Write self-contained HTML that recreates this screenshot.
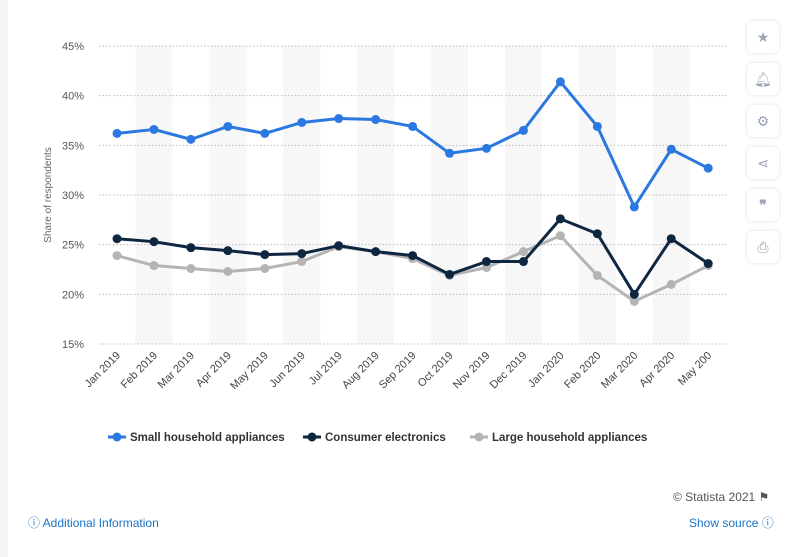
<!DOCTYPE html>
<html><head><meta charset="utf-8"><style>
body{margin:0;width:800px;height:557px;background:#fff;font-family:"Liberation Sans",sans-serif;position:relative;overflow:hidden}
.side{position:absolute;left:0;top:0;width:8px;height:557px;background:#f3f4f7}
.btn{position:absolute;left:747px;width:32px;height:32px;border-radius:6px;background:#fff;box-shadow:0 0 4px rgba(0,0,0,.12);color:#9aa3b5;font-size:14px;text-align:center;line-height:32px}
.foot{position:absolute;font-size:12px}
</style></head><body>
<div class="side"></div>
<svg id="chart" width="800" height="557" style="position:absolute;left:0;top:0"></svg>
<div class="btn" style="top:21px">★</div>
<div class="btn" style="top:63px">🔔︎</div>
<div class="btn" style="top:105px">⚙</div>
<div class="btn" style="top:147px">⋖</div>
<div class="btn" style="top:189px;font-weight:bold">❞</div>
<div class="btn" style="top:231px">⎙</div>
<div class="foot" style="left:673px;top:490px;color:#555">© Statista 2021 ⚑</div>
<div class="foot" style="left:28px;top:514px;color:#1a73c8">ⓘ Additional Information</div>
<div class="foot" style="left:689px;top:514px;color:#1a73c8">Show source ⓘ</div>
<script>
const categories=["Jan 2019","Feb 2019","Mar 2019","Apr 2019","May 2019","Jun 2019","Jul 2019","Aug 2019","Sep 2019","Oct 2019","Nov 2019","Dec 2019","Jan 2020","Feb 2020","Mar 2020","Apr 2020","May 200"];
const small=[36.2,36.6,35.6,36.9,36.2,37.3,37.7,37.6,36.9,34.2,34.7,36.5,41.4,36.9,28.8,34.6,32.7];
const consumer=[25.6,25.3,24.7,24.4,24.0,24.1,24.9,24.3,23.9,22.0,23.3,23.3,27.6,26.1,20.0,25.6,23.1];
const large=[23.9,22.9,22.6,22.3,22.6,23.3,24.8,24.3,23.6,21.9,22.7,24.3,25.9,21.9,19.3,21.0,22.9];
const ticks=[15,20,25,30,35,40,45];
const NS="http://www.w3.org/2000/svg",svg=document.getElementById('chart');
const step=36.95,x0=117;
const X=i=>x0+i*step, Y=v=>344-(v-15)*(298/30);
function mk(t,a){const e=document.createElementNS(NS,t);for(const k in a)e.setAttribute(k,a[k]);svg.appendChild(e);return e;}
for(let i=1;i<categories.length;i+=2){const r=mk('rect',{x:X(i)-step/2,y:Y(45),width:step,height:Y(15)-Y(45),fill:'#f7f7f7'});

}
ticks.forEach(t=>{const l=mk('line',{x1:99,x2:727,y1:Y(t),y2:Y(t),stroke:'#bbb','stroke-dasharray':'1.5,2'});


const tx=mk('text',{x:84,y:Y(t)+4,'text-anchor':'end','font-size':11,fill:'#555'});tx.textContent=t+'%';

});
const yt=mk('text',{transform:'translate(51,195) rotate(-90)','text-anchor':'middle','font-size':10,fill:'#666'});yt.textContent='Share of respondents';


categories.forEach((c,i)=>{const t=mk('text',{transform:`translate(${X(i)+4},${356}) rotate(-45)`,'text-anchor':'end','font-size':11,fill:'#444'});t.textContent=c;

});
function series(d,col,name){const p=mk('polyline',{points:d.map((v,i)=>X(i)+','+Y(v)).join(' '),fill:'none',stroke:col,'stroke-width':3,'stroke-linejoin':'round'});


d.forEach((v,i)=>{const c=mk('circle',{cx:X(i),cy:Y(v),r:4.5,fill:col});

});}
series(large,'#b4b4b4','large-household-appliances');
series(consumer,'#0e2740','consumer-electronics');
series(small,'#2b78e0','small-household-appliances');
const leg=[['Small household appliances','#2b78e0',108],['Consumer electronics','#0e2740',303],['Large household appliances','#b4b4b4',470]];
leg.forEach(([n,c,x])=>{const l=mk('line',{x1:x,x2:x+18,y1:437,y2:437,stroke:c,'stroke-width':3});


const d=mk('circle',{cx:x+9,cy:437,r:4.5,fill:c});


const t=mk('text',{x:x+22,y:441,'font-size':11.5,'font-weight':'bold',fill:'#333'});t.textContent=n;

});
</script>
</body></html>
